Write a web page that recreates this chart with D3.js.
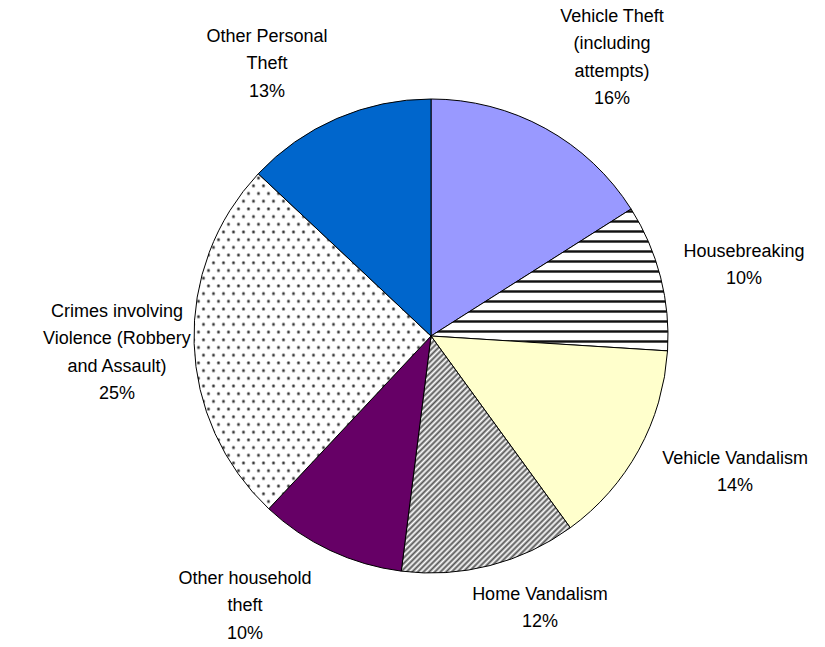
<!DOCTYPE html>
<meta charset="utf-8">
<style>
body { margin: 0; background: #fff; }
svg text { font-family: "Liberation Sans", Arial, sans-serif; font-size: 18px; fill: #000; }
</style>
<body>
<svg width="825" height="647"></svg>
<script src="https://d3js.org/d3.v7.min.js"></script>
<script>

// slice data, clockwise from 12 o'clock
var categories = ["Vehicle Theft (including attempts)", "Housebreaking", "Vehicle Vandalism",
                  "Home Vandalism", "Other household theft",
                  "Crimes involving Violence (Robbery and Assault)", "Other Personal Theft"];
var values = [16, 10, 14, 12, 10, 25, 13];
var labelLines = [
  ["Vehicle Theft", "(including", "attempts)"],
  ["Housebreaking"],
  ["Vehicle Vandalism"],
  ["Home Vandalism"],
  ["Other household", "theft"],
  ["Crimes involving", "Violence (Robbery", "and Assault)"],
  ["Other Personal", "Theft"]
];

// layout (label centre of first line)
var labelPos = [[612, 15], [744, 250], [735, 457], [540, 593], [245, 577], [117, 310], [267, 35]];
var fills = ["#9999ff", "url(#hstripe)", "#ffffcc", "url(#diag)", "#660066", "url(#dots)", "#0066cc"];

var svg = d3.select("svg"),
    cx = 431, cy = 336, radius = 237, lineH = 27.6;

var defs = svg.append("defs");

// horizontal stripes
var hp = defs.append("pattern").attr("id", "hstripe")
    .attr("patternUnits", "userSpaceOnUse").attr("width", 10).attr("height", 10);
hp.append("rect").attr("width", 10).attr("height", 10).attr("fill", "#fff");
hp.append("rect").attr("y", 4).attr("width", 10).attr("height", 3).attr("fill", "#999");
hp.append("rect").attr("y", 4.5).attr("width", 10).attr("height", 2).attr("fill", "#111");

// diagonal hatch
var dp = defs.append("pattern").attr("id", "diag")
    .attr("patternUnits", "userSpaceOnUse").attr("width", 8).attr("height", 4)
    .attr("patternTransform", "rotate(-45)");
dp.append("rect").attr("width", 8).attr("height", 4).attr("fill", "#fff");
dp.append("rect").attr("y", 0.5).attr("width", 8).attr("height", 2).attr("fill", "#555");

// staggered dots
var sp = defs.append("pattern").attr("id", "dots")
    .attr("patternUnits", "userSpaceOnUse").attr("width", 10).attr("height", 15.4);
sp.append("rect").attr("width", 10).attr("height", 15.4).attr("fill", "#fff");
[[2.5, 3.8], [7.5, 11.5]].forEach(function(p) {
  sp.append("circle").attr("cx", p[0]).attr("cy", p[1]).attr("r", 1.9).attr("fill", "#aaa");
  sp.append("circle").attr("cx", p[0]).attr("cy", p[1]).attr("r", 1.1).attr("fill", "#333");
});

var pie = d3.pie().sort(null).value(function(d) { return d; });
var arc = d3.arc().innerRadius(0).outerRadius(radius);

var g = svg.append("g").attr("transform", "translate(" + cx + "," + cy + ")");

g.selectAll("path")
  .data(pie(values))
  .enter().append("path")
    .attr("d", arc)
    .attr("fill", function(d, i) { return fills[i]; })
    .attr("stroke", "#000")
    .attr("stroke-width", 1)
    .attr("stroke-linejoin", "round");

// labels
values.forEach(function(v, i) {
  var lines = labelLines[i].concat([v + "%"]);
  var t = svg.append("text").attr("text-anchor", "middle");
  lines.forEach(function(s, k) {
    t.append("tspan")
      .attr("x", labelPos[i][0])
      .attr("y", labelPos[i][1] + k * lineH + 6.5)
      .text(s);
  });
});

</script>
</body>
